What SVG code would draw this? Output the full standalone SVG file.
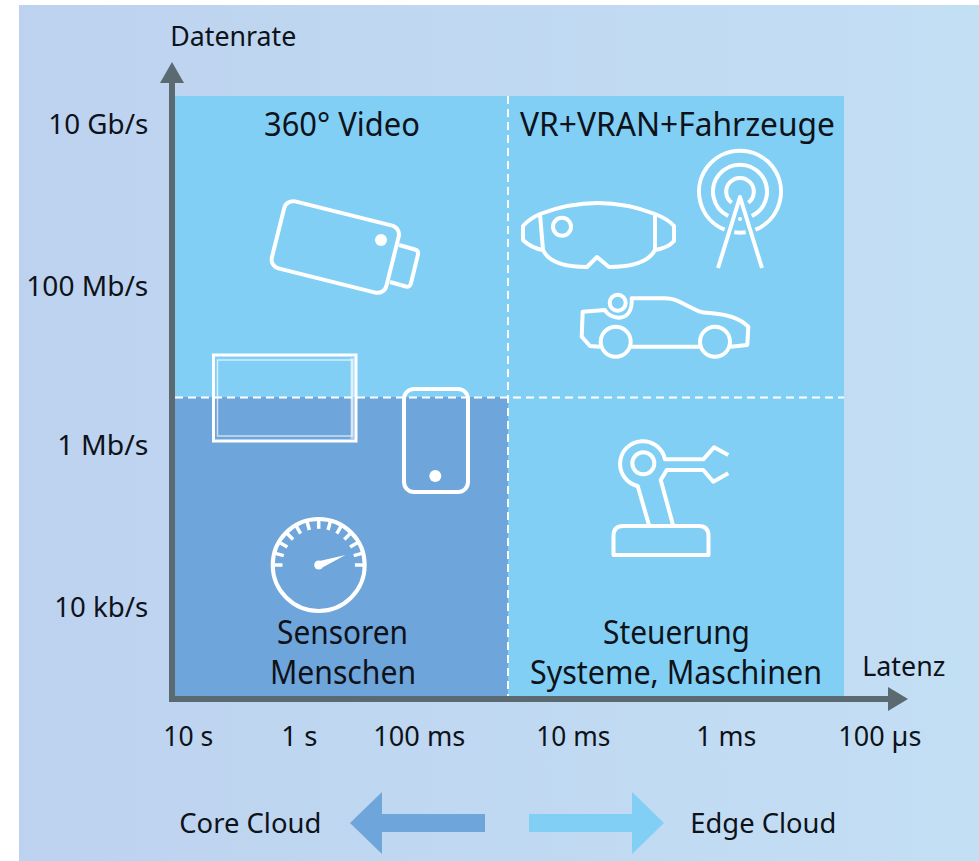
<svg xmlns="http://www.w3.org/2000/svg" xmlns:xlink="http://www.w3.org/1999/xlink" width="979" height="861" viewBox="0 0 979 861">
<style>
text{font-family:"Noto Sans","Liberation Sans",sans-serif;fill:#0e1219;font-size:28px}
.big{font-size:32px}
.ic{fill:none;stroke:#fff;stroke-width:4;stroke-linejoin:round;stroke-linecap:butt}
.dot{fill:#fff}
.dash{stroke:#fff;stroke-width:2;stroke-dasharray:8 5;fill:none}
.axis{stroke:#5b6a70;stroke-width:6;fill:none}
.axh{fill:#5b6a70}
</style>
<defs>
<linearGradient id="bg" x1="0" x2="1" y1="0" y2="0"><stop offset="0" stop-color="#bdd2ef"/><stop offset="1" stop-color="#c3dff4"/></linearGradient>
<line id="tick" x1="273" y1="565" x2="282.500" y2="565" stroke="#fff" stroke-width="3.500"/>
</defs>
<rect width="979" height="861" fill="#fff"/>
<rect x="19" y="5" width="960" height="856" fill="url(#bg)"/>
<g id="quadrants">
<rect x="175" y="96" width="669" height="601" fill="#82cff5"/>
<rect x="175" y="397" width="333" height="300" fill="#6ea5da"/>
<path class="dash" d="M175,397.500H844M508,96V697"/>
</g>
<g id="connectors">
<path class="axis" d="M172,82V699H890"/>
<polygon class="axh" points="172,62 160,83 184,83"/>
<polygon class="axh" points="908,699 888,687 888,711"/>
<polygon fill="#6ea5da" points="350,823 382,792 382,814 485,814 485,832 382,832 382,854"/>
<polygon fill="#82cff5" points="664,823 632,792 632,814 529,814 529,832 632,832 632,854"/>
</g>
<g id="axis-labels" transform="translate(-0.700 1)">
<text x="171" y="45" textLength="126" lengthAdjust="spacingAndGlyphs">Datenrate</text>
<text x="863" y="675" textLength="83" lengthAdjust="spacingAndGlyphs">Latenz</text>
<text x="49" y="133" textLength="100" lengthAdjust="spacingAndGlyphs">10 Gb/s</text>
<text x="27" y="295" textLength="122" lengthAdjust="spacingAndGlyphs">100 Mb/s</text>
<text x="58" y="454" textLength="91" lengthAdjust="spacingAndGlyphs">1 Mb/s</text>
<text x="55" y="616" textLength="94" lengthAdjust="spacingAndGlyphs">10 kb/s</text>
<text x="164" y="745" textLength="50" lengthAdjust="spacingAndGlyphs">10 s</text>
<text x="282" y="745" textLength="36" lengthAdjust="spacingAndGlyphs">1 s</text>
<text x="374" y="745" textLength="92" lengthAdjust="spacingAndGlyphs">100 ms</text>
<text x="537" y="745" textLength="74" lengthAdjust="spacingAndGlyphs">10 ms</text>
<text x="697" y="745" textLength="60" lengthAdjust="spacingAndGlyphs">1 ms</text>
<text x="839" y="745" textLength="83" lengthAdjust="spacingAndGlyphs">100 µs</text>
<text x="180" y="832" textLength="142" lengthAdjust="spacingAndGlyphs">Core Cloud</text>
<text x="691" y="832" textLength="146" lengthAdjust="spacingAndGlyphs">Edge Cloud</text>
</g>
<g id="quadrant-labels" transform="translate(0 1)">
<text class="big" x="264" y="135" textLength="156" lengthAdjust="spacingAndGlyphs">360° Video</text>
<text class="big" x="520" y="135" textLength="315" lengthAdjust="spacingAndGlyphs">VR+VRAN+Fahrzeuge</text>
<text class="big" x="277" y="643" textLength="131" lengthAdjust="spacingAndGlyphs">Sensoren</text>
<text class="big" x="270" y="683" textLength="146" lengthAdjust="spacingAndGlyphs">Menschen</text>
<text class="big" x="603" y="643" textLength="147" lengthAdjust="spacingAndGlyphs">Steuerung</text>
<text class="big" x="530" y="683" textLength="292" lengthAdjust="spacingAndGlyphs">Systeme, Maschinen</text>
</g>
<g id="camera">
<rect class="ic" x="276.300" y="212.500" width="118" height="69" rx="9" transform="rotate(14 335.300 247)"/>
<path class="ic" d="M399,245L415,249.500Q419,250.500 418,254.500L411,283Q410,287.500 406,286.500L390,282"/>
<circle class="dot" cx="381" cy="240" r="6"/>
</g>
<g id="tablet">
<rect x="213.500" y="355" width="142.500" height="86" fill="none" stroke="#fff" stroke-width="3"/>
<rect x="217.500" y="360" width="134.500" height="76" fill="none" stroke="#fff" stroke-opacity=".65" stroke-width="1.500"/>
<rect x="350.500" y="358" width="4" height="81" fill="#fff" fill-opacity=".45"/>
</g>
<g id="phone">
<rect class="ic" x="404" y="389" width="64" height="103" rx="10"/>
<circle class="dot" cx="435.300" cy="476" r="6"/>
</g>
<g id="goggles">
<path class="ic" d="M540,214Q598,192 655,214Q668,219 674,226V241Q668,248 655,250C648,263 630,267 609,267L597,257L587,267C566,267 549,263 543,250Q531,248 523,240V226Q529,219 540,214Z"/>
<path class="ic" d="M540,214L543,250M655,214V250"/>
<circle class="ic" cx="562" cy="226.700" r="9"/>
</g>
<g id="antenna">
<path class="ic" d="M718,268L740,197L762,268"/>
<path class="ic" d="M724.600,229.700A41,41 0 1 1 755.400,229.700M734.300,232.300A41,41 0 0 0 745.700,232.300"/>
<path class="ic" d="M728.200,216A27,27 0 1 1 751.800,216"/>
<path class="ic" d="M731.700,202.700A13.800,13.800 0 1 1 748.300,202.700"/>
<circle class="dot" cx="740" cy="219" r="2"/>
</g>
<g id="car">
<path class="ic" d="M600,346.700L590,346L581.700,336.700L582.700,311.700L605,310C609,319 633,325 631.700,298.300H664Q673,298.300 680,302L696,310Q702,313 710,313Q737,315 748.300,326.700L747.300,345L730.700,346.700M630.700,346.700H700"/>
<circle class="ic" cx="615.700" cy="341.700" r="15"/>
<circle class="ic" cx="715" cy="341.700" r="15"/>
<circle class="ic" cx="617.700" cy="302.700" r="8"/>
</g>
<g id="robot">
<path class="ic" d="M613.500,555V536Q613.500,526 623,526H699Q708.500,526 708.500,536V555Z"/>
<path class="ic" d="M649.300,526L637.700,486A22.700,22.700 0 1 1 665,459.300H703.300L714,447.300L728.300,455"/>
<path class="ic" d="M673.300,526L660.700,480L666.700,470H703.300L713.300,481.700L728.300,473.300"/>
<circle class="ic" cx="643.300" cy="463.300" r="11"/>
</g>
<g id="gauge">
<circle class="ic" cx="318.700" cy="565" r="46"/>
<use xlink:href="#tick"/>
<use xlink:href="#tick" transform="rotate(15 318.700 565)"/>
<use xlink:href="#tick" transform="rotate(30 318.700 565)"/>
<use xlink:href="#tick" transform="rotate(45 318.700 565)"/>
<use xlink:href="#tick" transform="rotate(60 318.700 565)"/>
<use xlink:href="#tick" transform="rotate(75 318.700 565)"/>
<use xlink:href="#tick" transform="rotate(90 318.700 565)"/>
<use xlink:href="#tick" transform="rotate(105 318.700 565)"/>
<use xlink:href="#tick" transform="rotate(120 318.700 565)"/>
<use xlink:href="#tick" transform="rotate(135 318.700 565)"/>
<use xlink:href="#tick" transform="rotate(150 318.700 565)"/>
<use xlink:href="#tick" transform="rotate(165 318.700 565)"/>
<use xlink:href="#tick" transform="rotate(180 318.700 565)"/>
<circle class="dot" cx="318.700" cy="565" r="4.500"/>
<polygon class="dot" points="345.500,555 317.500,561.500 320.500,568.500"/>
</g>
</svg>
